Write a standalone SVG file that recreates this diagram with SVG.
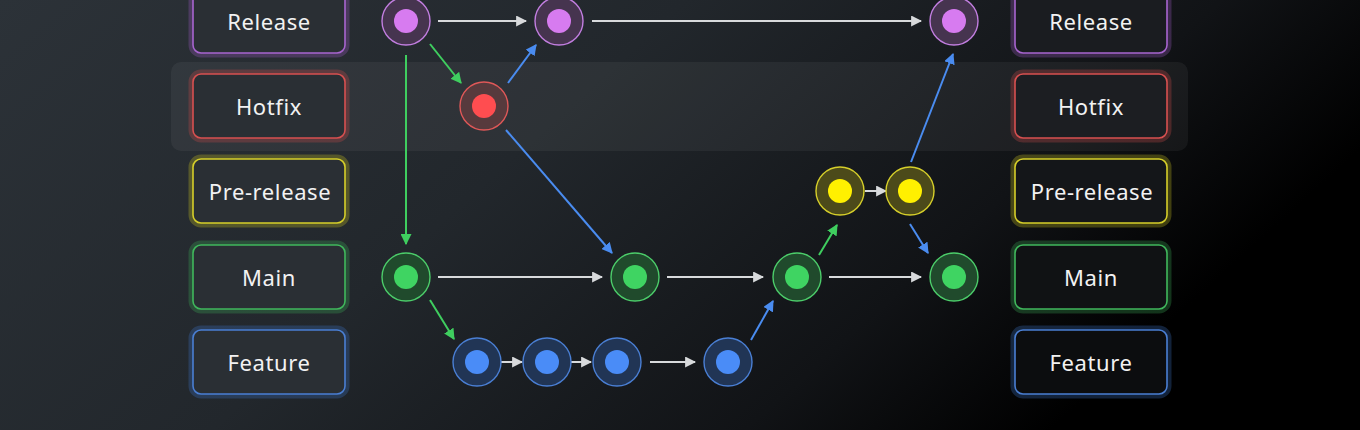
<svg xmlns="http://www.w3.org/2000/svg" width="1360" height="430" viewBox="0 0 1360 430">
<defs>
<linearGradient id="bg" x1="0" y1="0" x2="1" y2="0.35">
<stop offset="0" stop-color="#2c3238"/>
<stop offset="0.45" stop-color="#22272c"/>
<stop offset="0.8" stop-color="#111316"/>
<stop offset="1" stop-color="#000000"/>
</linearGradient>
<marker id="aw" viewBox="0 0 10 10" refX="9" refY="5" markerWidth="11" markerHeight="11" markerUnits="userSpaceOnUse" orient="auto"><path d="M0,0 L10,5 L0,10 z" fill="#d8dadc"/></marker>
<marker id="ag" viewBox="0 0 10 10" refX="9" refY="5" markerWidth="11" markerHeight="11" markerUnits="userSpaceOnUse" orient="auto"><path d="M0,0 L10,5 L0,10 z" fill="#3fce5f"/></marker>
<marker id="ab" viewBox="0 0 10 10" refX="9" refY="5" markerWidth="11" markerHeight="11" markerUnits="userSpaceOnUse" orient="auto"><path d="M0,0 L10,5 L0,10 z" fill="#4a8cf0"/></marker>
</defs>
<style>
.lbl{font-family:"Noto Sans","Liberation Sans",sans-serif;font-size:22px;letter-spacing:0.6px;fill:#f2f2f2;text-anchor:middle;dominant-baseline:central}
.box{fill:#2a2f34;stroke-width:1.6}
.glow{fill:none;stroke-width:9;stroke-opacity:0.3}
.w{stroke:#d8dadc;stroke-width:2;fill:none;marker-end:url(#aw)}
.g{stroke:#3fce5f;stroke-width:2;fill:none;marker-end:url(#ag)}
.b{stroke:#4a8cf0;stroke-width:2;fill:none;marker-end:url(#ab)}
.np{fill:#46344f;stroke:#c27ee0;stroke-width:1.4}.ip{fill:#d77bf0}
.nr{fill:#573a3d;stroke:#e05858;stroke-width:1.4}.ir{fill:#ff4d50}
.ny{fill:#4c4a1a;stroke:#d6cf2a;stroke-width:1.4}.iy{fill:#fff000}
.ng{fill:#204a2c;stroke:#4ccd6a;stroke-width:1.4}.ig{fill:#3fd462}
.nb{fill:#213555;stroke:#4a7fd4;stroke-width:1.4}.ib{fill:#4a8cf7}
</style>
<rect width="1360" height="430" fill="url(#bg)"/>
<rect x="171" y="62" width="1017" height="89" rx="10" fill="#ffffff" fill-opacity="0.05"/>

<g id="label-release-left"><rect class="glow" x="193" y="-11" width="152" height="64" rx="8" stroke="#9c5bc0"/><rect class="box" x="193" y="-11" width="152" height="64" rx="8" stroke="#a865d0"/><text class="lbl" x="269" y="21">Release</text></g>
<g id="label-hotfix-left"><rect class="glow" x="193" y="74" width="152" height="64" rx="8" stroke="#c84848"/><rect class="box" x="193" y="74" width="152" height="64" rx="8" stroke="#d85050"/><text class="lbl" x="269" y="106">Hotfix</text></g>
<g id="label-prerelease-left"><rect class="glow" x="193" y="159" width="152" height="64" rx="8" stroke="#c8c020"/><rect class="box" x="193" y="159" width="152" height="64" rx="8" stroke="#d6cf2a"/><text class="lbl" x="270" y="191">Pre-release</text></g>
<g id="label-main-left"><rect class="glow" x="193" y="245" width="152" height="64" rx="8" stroke="#3aa855"/><rect class="box" x="193" y="245" width="152" height="64" rx="8" stroke="#40b85c"/><text class="lbl" x="269" y="277">Main</text></g>
<g id="label-feature-left"><rect class="glow" x="193" y="330" width="152" height="64" rx="8" stroke="#3a6fc0"/><rect class="box" x="193" y="330" width="152" height="64" rx="8" stroke="#4a7fd4"/><text class="lbl" x="269" y="362">Feature</text></g>

<g id="label-release-right"><rect class="glow" x="1015" y="-11" width="152" height="64" rx="8" stroke="#9c5bc0"/><rect class="box" x="1015" y="-11" width="152" height="64" rx="8" stroke="#a865d0" style="fill:#1a1c20"/><text class="lbl" x="1091" y="21">Release</text></g>
<g id="label-hotfix-right"><rect class="glow" x="1015" y="74" width="152" height="64" rx="8" stroke="#c84848"/><rect class="box" x="1015" y="74" width="152" height="64" rx="8" stroke="#d85050" style="fill:#1c1e22"/><text class="lbl" x="1091" y="106">Hotfix</text></g>
<g id="label-prerelease-right"><rect class="glow" x="1015" y="159" width="152" height="64" rx="8" stroke="#c8c020"/><rect class="box" x="1015" y="159" width="152" height="64" rx="8" stroke="#d6cf2a" style="fill:#141619"/><text class="lbl" x="1092" y="191">Pre-release</text></g>
<g id="label-main-right"><rect class="glow" x="1015" y="245" width="152" height="64" rx="8" stroke="#3aa855"/><rect class="box" x="1015" y="245" width="152" height="64" rx="8" stroke="#40b85c" style="fill:#101214"/><text class="lbl" x="1091" y="277">Main</text></g>
<g id="label-feature-right"><rect class="glow" x="1015" y="330" width="152" height="64" rx="8" stroke="#3a6fc0"/><rect class="box" x="1015" y="330" width="152" height="64" rx="8" stroke="#4a7fd4" style="fill:#0c0d0f"/><text class="lbl" x="1091" y="362">Feature</text></g>

<g id="connectors">
<line class="w" x1="438" y1="21" x2="526" y2="21"/>
<line class="w" x1="592" y1="21" x2="921" y2="21"/>
<line class="g" x1="406" y1="55" x2="406" y2="244"/>
<line class="g" x1="430" y1="44" x2="461" y2="83"/>
<line class="b" x1="508" y1="83" x2="536" y2="45"/>
<line class="b" x1="506" y1="130" x2="612" y2="253"/>
<line class="w" x1="438" y1="277" x2="602" y2="277"/>
<line class="w" x1="667" y1="277" x2="763" y2="277"/>
<line class="w" x1="829" y1="277" x2="921" y2="277"/>
<line class="g" x1="430" y1="300" x2="454" y2="339"/>
<line class="w" x1="501" y1="362" x2="522" y2="362"/>
<line class="w" x1="571" y1="362" x2="591" y2="362"/>
<line class="w" x1="650" y1="362" x2="695" y2="362"/>
<line class="b" x1="751" y1="340" x2="773" y2="301"/>
<line class="g" x1="819" y1="255" x2="837" y2="225"/>
<line class="w" x1="865" y1="191" x2="886" y2="191"/>
<line class="b" x1="910" y1="224" x2="928" y2="253"/>
<line class="b" x1="911" y1="162" x2="953" y2="54"/>
</g>

<g id="r1"><circle class="np" cx="406" cy="21" r="24"/><circle class="ip" cx="406" cy="21" r="12"/></g>
<g id="r2"><circle class="np" cx="559" cy="21" r="24"/><circle class="ip" cx="559" cy="21" r="12"/></g>
<g id="r3"><circle class="np" cx="954" cy="21" r="24"/><circle class="ip" cx="954" cy="21" r="12"/></g>
<g id="h1"><circle class="nr" cx="484" cy="106" r="24"/><circle class="ir" cx="484" cy="106" r="12"/></g>
<g id="p1"><circle class="ny" cx="840" cy="191" r="24"/><circle class="iy" cx="840" cy="191" r="12"/></g>
<g id="p2"><circle class="ny" cx="910" cy="191" r="24"/><circle class="iy" cx="910" cy="191" r="12"/></g>
<g id="m1"><circle class="ng" cx="406" cy="277" r="24"/><circle class="ig" cx="406" cy="277" r="12"/></g>
<g id="m2"><circle class="ng" cx="635" cy="277" r="24"/><circle class="ig" cx="635" cy="277" r="12"/></g>
<g id="m3"><circle class="ng" cx="797" cy="277" r="24"/><circle class="ig" cx="797" cy="277" r="12"/></g>
<g id="m4"><circle class="ng" cx="954" cy="277" r="24"/><circle class="ig" cx="954" cy="277" r="12"/></g>
<g id="f1"><circle class="nb" cx="477" cy="362" r="24"/><circle class="ib" cx="477" cy="362" r="12"/></g>
<g id="f2"><circle class="nb" cx="547" cy="362" r="24"/><circle class="ib" cx="547" cy="362" r="12"/></g>
<g id="f3"><circle class="nb" cx="617" cy="362" r="24"/><circle class="ib" cx="617" cy="362" r="12"/></g>
<g id="f4"><circle class="nb" cx="728" cy="362" r="24"/><circle class="ib" cx="728" cy="362" r="12"/></g>
</svg>
